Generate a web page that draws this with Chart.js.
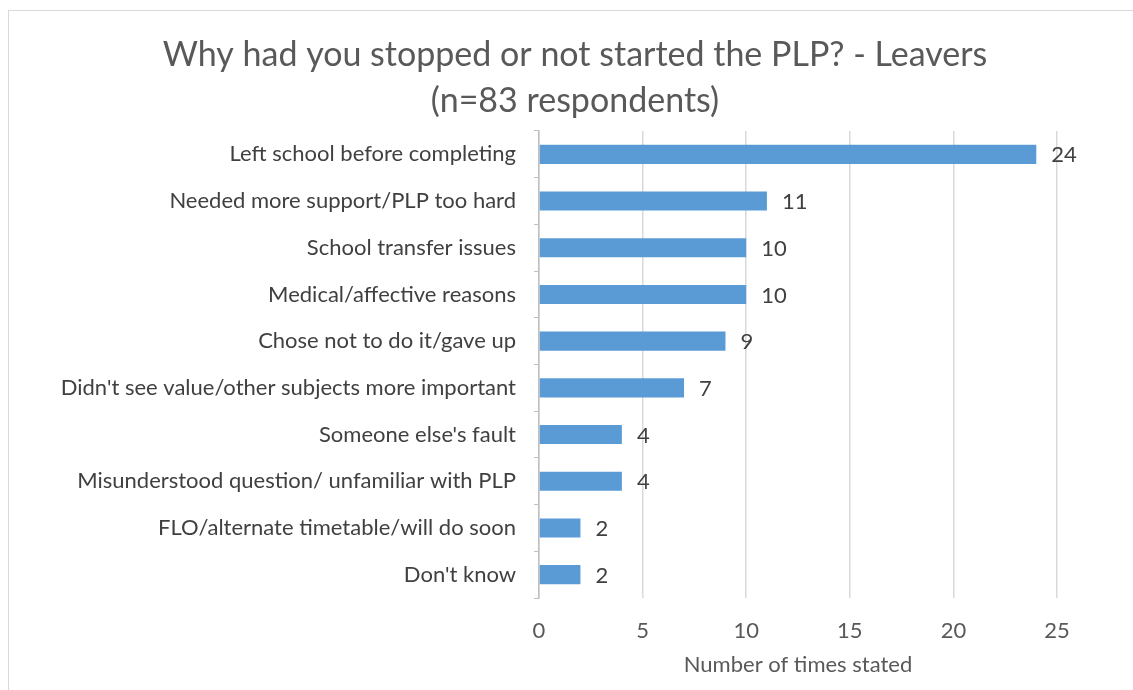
<!DOCTYPE html>
<html>
<head>
<meta charset="utf-8">
<script src="https://cdn.jsdelivr.net/npm/chart.js@4/dist/chart.umd.min.js"></script>
<style>
  html, body { margin: 0; padding: 0; background: #fff; overflow: hidden; }
  #wrap {
    position: absolute; left: 8px; top: 10px;
    width: 1134px; height: 690px;
    border: 1px solid #d9d9d9; box-sizing: border-box;
  }
  canvas { display: block; }
</style>
</head>
<body>
<div id="wrap"><canvas id="chart"></canvas></div>
<script>
const reasons = [
  "Left school before completing",
  "Needed more support/PLP too hard",
  "School transfer issues",
  "Medical/affective reasons",
  "Chose not to do it/gave up",
  "Didn't see value/other subjects more important",
  "Someone else's fault",
  "Misunderstood question/ unfamiliar with PLP",
  "FLO/alternate timetable/will do soon",
  "Don't know"
];
const timesStated = [24, 11, 10, 10, 9, 7, 4, 4, 2, 2];
const xTicks = [0, 5, 10, 15, 20, 25];
const titleLines = ["Why had you stopped or not started the PLP? - Leavers", "(n=83 respondents)"];

const FONT = "Lato, 'Open Sans', sans-serif";

// ── title, centred on the whole chart box
const chartTitle = {
  id: "chartTitle",
  afterDraw(chart) {
    const ctx = chart.ctx;
    ctx.save();
    ctx.font = "34px " + FONT;
    ctx.fillStyle = "#595959";
    ctx.textAlign = "center";
    ctx.textBaseline = "middle";
    titleLines.forEach((line, i) => {
      ctx.fillText(line, chart.width / 2, 44 + i * 46);
    });
    ctx.restore();
  }
};

// ── value labels to the right of each bar
const barLabels = {
  id: "barLabels",
  afterDatasetsDraw(chart) {
    const ctx = chart.ctx;
    const meta = chart.getDatasetMeta(0);
    ctx.save();
    ctx.font = "22px " + FONT;
    ctx.fillStyle = "#404040";
    ctx.textAlign = "left";
    ctx.textBaseline = "middle";
    meta.data.forEach((bar, i) => {
      ctx.fillText(String(timesStated[i]), bar.x + 15, bar.y + 1);
    });
    ctx.restore();
  }
};

new Chart(document.getElementById("chart"), {
  type: "bar",
  data: {
    labels: reasons,
    datasets: [{
      data: timesStated,
      backgroundColor: "#5b9bd5",
      categoryPercentage: 1,
      barPercentage: 0.41,
    }],
  },
  options: {
    indexAxis: "y",
    responsive: true,
    maintainAspectRatio: false,
    animation: false,
    layout: { padding: { left: 20, right: 84, top: 120, bottom: 0 } },
    plugins: {
      legend: { display: false },
      tooltip: { enabled: false },
      title: { display: false },
    },
    scales: {
      x: {
        min: 0,
        max: 25,
        afterBuildTicks: (scale) => { scale.ticks = xTicks.map((v) => ({ value: v })); },
        afterFit: (scale) => { scale.height = 101; },
        grid: { color: "#d9d9d9", lineWidth: 1.5, drawTicks: false },
        border: { display: false },
        ticks: { color: "#595959", font: { family: FONT, size: 22 }, padding: 20 },
        title: {
          display: true,
          text: "Number of times stated",
          color: "#595959",
          font: { family: FONT, size: 22 },
          padding: { top: 8, bottom: 21 },
        },
      },
      y: {
        afterFit: (scale) => { scale.width = 510; },
        grid: { drawOnChartArea: false, drawTicks: true, tickLength: 5, color: "#bfbfbf" },
        border: { display: true, color: "#bfbfbf", width: 1.5 },
        ticks: { color: "#404040", font: { family: FONT, size: 22 }, padding: 18 },
      },
    },
  },
  plugins: [barLabels, chartTitle],
});
</script>
</body>
</html>
